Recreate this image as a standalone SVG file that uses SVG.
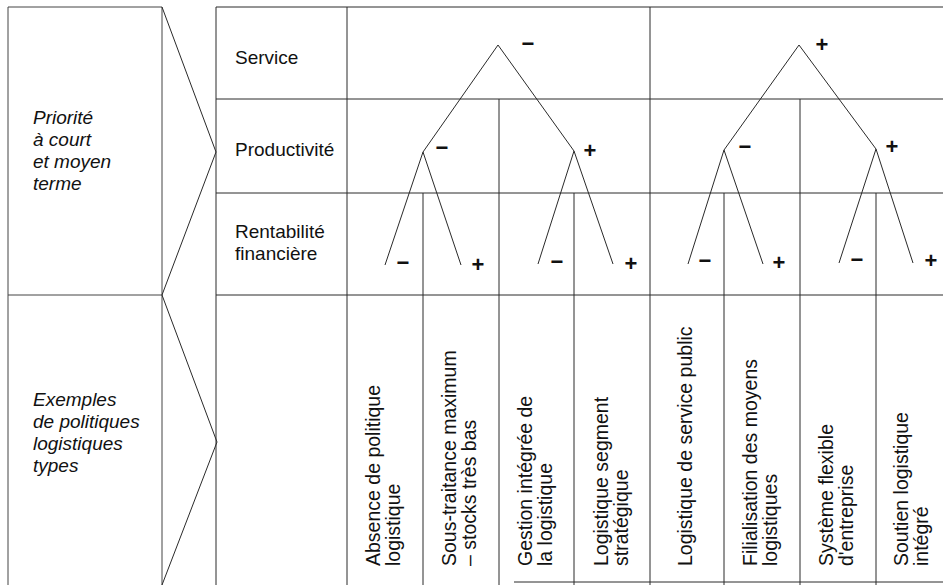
<svg xmlns="http://www.w3.org/2000/svg" width="943" height="585" viewBox="0 0 943 585">
<style>
.ln{stroke:#2a2a2a;stroke-width:1;fill:none}
.lf{stroke:#444;stroke-width:1;fill:none}
.t{font-family:"Liberation Sans",Arial,Helvetica,sans-serif;font-size:19px;fill:#111}
.ti{font-family:"Liberation Sans",Arial,Helvetica,sans-serif;font-size:19px;font-style:italic;fill:#111}
.tr{font-family:"Liberation Sans",Arial,Helvetica,sans-serif;font-size:19.5px;fill:#111}
.s{font-family:"Liberation Sans",Arial,Helvetica,sans-serif;font-size:22px;font-weight:bold;fill:#111;text-anchor:middle}
</style>
<rect width="943" height="585" fill="#fff"/>
<g id="connectors">
  <!-- left box -->
  <path class="lf" d="M8 7H162M8 295H162M8 7V585M162 7V585"/>
  <!-- chevrons -->
  <path class="ln" d="M162 7L216 152L162 295"/>
  <path class="ln" d="M162 295L217 442L162 585"/>
  <!-- table grid -->
  <path class="ln" d="M216 7H943M216 99H943M216 193H943M216 295H943M514 582H943"/>
  <path class="ln" d="M216 7V585M347 7V585M650 7V585M499 99V585M800 99V585M423 193V585M574 193V585M724 193V585M876 193V585"/>
  <!-- trees -->
  <path class="ln" d="M423 152L498 45L574 151M385 265L423 152L461 265M538 264L574 151L613 264"/>
  <path class="ln" d="M724 150L799 45L876 149M688 264L724 150L763 264M839 263L876 149L913 263"/>
</g>
<g id="label-priorite">
  <text class="ti" x="33" y="124">Priorité</text>
  <text class="ti" x="33" y="146">à court</text>
  <text class="ti" x="33" y="168">et moyen</text>
  <text class="ti" x="33" y="190">terme</text>
</g>
<g id="label-exemples">
  <text class="ti" x="33" y="406">Exemples</text>
  <text class="ti" x="33" y="428">de politiques</text>
  <text class="ti" x="33" y="450">logistiques</text>
  <text class="ti" x="33" y="472">types</text>
</g>
<g id="row-service"><text class="t" x="235" y="64">Service</text></g>
<g id="row-productivite"><text class="t" x="235" y="156">Productivité</text></g>
<g id="row-rentabilite">
  <text class="t" x="235" y="238">Rentabilité</text>
  <text class="t" x="235" y="260">financière</text>
</g>
<g id="signs">
  <text class="s" x="528" y="51">−</text>
  <text class="s" x="442" y="155">−</text>
  <text class="s" x="590" y="158">+</text>
  <text class="s" x="403" y="270">−</text>
  <text class="s" x="478" y="272">+</text>
  <text class="s" x="557" y="269">−</text>
  <text class="s" x="631" y="271">+</text>
  <text class="s" x="822" y="52">+</text>
  <text class="s" x="745" y="154">−</text>
  <text class="s" x="892" y="154">+</text>
  <text class="s" x="705" y="268">−</text>
  <text class="s" x="779" y="270">+</text>
  <text class="s" x="857" y="267">−</text>
  <text class="s" x="931" y="268">+</text>
</g>
<g id="policy-1" transform="translate(0,566) rotate(-90)">
  <text class="tr" x="0" y="380">Absence de politique</text>
  <text class="tr" x="0" y="400">logistique</text>
</g>
<g id="policy-2" transform="translate(0,566) rotate(-90)">
  <text class="tr" x="0" y="456">Sous-traitance maximum</text>
  <text class="tr" x="0" y="476">– stocks très bas</text>
</g>
<g id="policy-3" transform="translate(0,566) rotate(-90)">
  <text class="tr" x="0" y="532">Gestion intégrée de</text>
  <text class="tr" x="0" y="552">la logistique</text>
</g>
<g id="policy-4" transform="translate(0,566) rotate(-90)">
  <text class="tr" x="0" y="608">Logistique segment</text>
  <text class="tr" x="0" y="628">stratégique</text>
</g>
<g id="policy-5" transform="translate(0,566) rotate(-90)">
  <text class="tr" x="0" y="692">Logistique de service public</text>
</g>
<g id="policy-6" transform="translate(0,566) rotate(-90)">
  <text class="tr" x="0" y="757">Filialisation des moyens</text>
  <text class="tr" x="0" y="777">logistiques</text>
</g>
<g id="policy-7" transform="translate(0,566) rotate(-90)">
  <text class="tr" x="0" y="833">Système flexible</text>
  <text class="tr" x="0" y="853">d'entreprise</text>
</g>
<g id="policy-8" transform="translate(0,566) rotate(-90)">
  <text class="tr" x="0" y="908">Soutien logistique</text>
  <text class="tr" x="0" y="928">intégré</text>
</g>
</svg>
